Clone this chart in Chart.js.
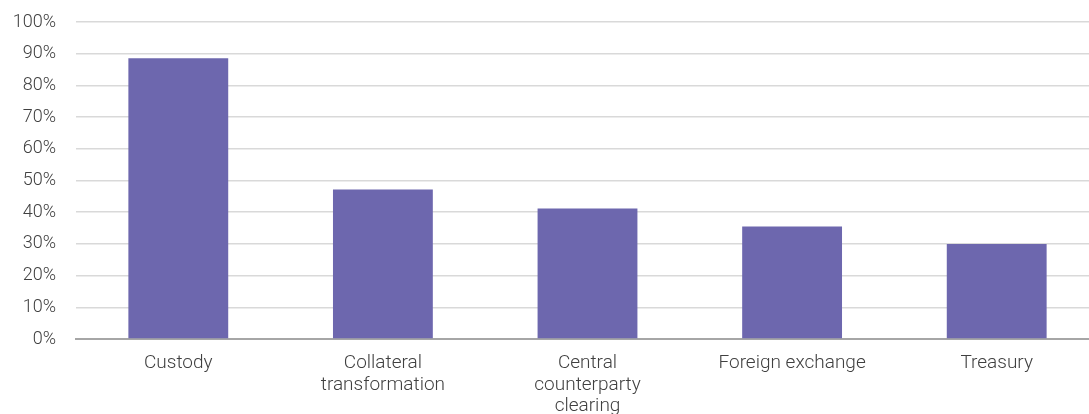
<!DOCTYPE html>
<html>
<head>
<meta charset="utf-8">
<script src="https://cdn.jsdelivr.net/npm/chart.js@4"></script>
<style>
  html,body{margin:0;padding:0;background:#fff;overflow:hidden;width:1089px;height:414px;}
  /* the original crop cuts the plot a little on the right */
  #wrap{width:1100px;height:414px;position:relative;}
</style>
</head>
<body>
<div id="wrap"><canvas id="c"></canvas></div>
<script>
// data
const categories = [
  "Custody",
  ["Collateral","transformation"],
  ["Central","counterparty","clearing"],
  "Foreign exchange",
  "Treasury"
];
const shares = [88.6, 47.2, 41.2, 35.5, 30.0];
const yTicks = [0,10,20,30,40,50,60,70,80,90,100];

const fontFam = "Roboto, 'DejaVu Sans', sans-serif";

new Chart(document.getElementById("c"),{
  type:"bar",
  data:{
    labels:categories,
    datasets:[{data:shares,backgroundColor:"#6d67ae",borderWidth:0,barPercentage:1,categoryPercentage:0.488}]
  },
  options:{
    responsive:true,
    maintainAspectRatio:false,
    animation:false,
    layout:{padding:{top:22,right:1,left:0,bottom:0}},
    plugins:{legend:{display:false},tooltip:{enabled:false}},
    scales:{
      x:{
        grid:{display:false,drawTicks:false},
        border:{color:"#a6a6a6",width:2},
        ticks:{color:"#404040",font:{family:fontFam,size:19,weight:300,lineHeight:1.15},padding:13,maxRotation:0,autoSkip:false},
        afterFit:(s)=>{ s.height = 75; }
      },
      y:{
        min:0,max:100,
        afterBuildTicks:(ax)=>{ ax.ticks = yTicks.map(v=>({value:v})); },
        grid:{color:"#d9d9d9",lineWidth:1.5,drawTicks:false},
        border:{display:false},
        ticks:{color:"#404040",font:{family:fontFam,size:18,weight:300},padding:20,callback:v=>v+"%"},
        afterFit:(s)=>{ s.width = 76; s.paddingTop = 0; s.paddingBottom = 0; }
      }
    }
  }
});
</script>
</body>
</html>
